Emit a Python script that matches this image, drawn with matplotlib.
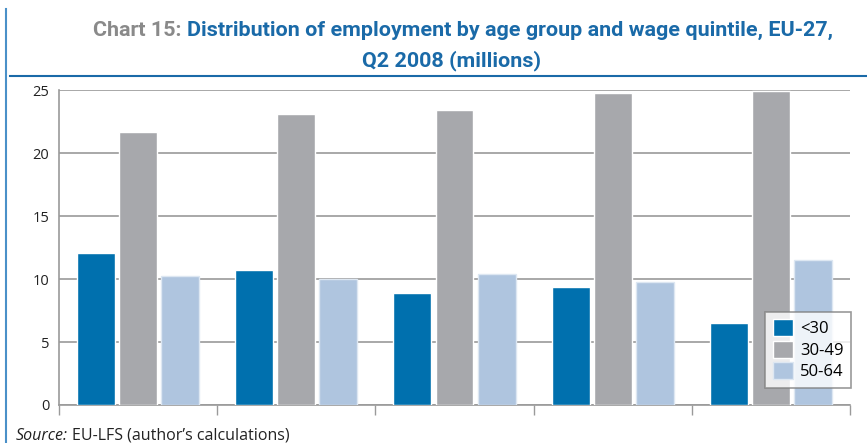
import matplotlib
matplotlib.use("Agg")
import matplotlib.pyplot as plt
import numpy as np
from matplotlib.lines import Line2D

categories = ["Q1", "Q2", "Q3", "Q4", "Q5"]
series_names = ["<30", "30-49", "50-64"]
under30 = [12.1, 10.7, 8.9, 9.4, 6.5]
age30_49 = [21.7, 23.1, 23.4, 24.8, 24.95]
age50_64 = [10.2, 10.0, 10.4, 9.8, 11.5]
yticks = [0, 5, 10, 15, 20, 25]

colors = ["#0070ae", "#a7a8ac", "#afc5df"]
edges = ["white", "white", "#dde7f2"]

W, H = 867, 443
fig = plt.figure(figsize=(W / 100, H / 100), dpi=100)
fig.patch.set_facecolor("white")

ax = fig.add_axes([59 / W, 1 - 405 / H, (850 - 59) / W, (405 - 90) / H])
x = np.arange(len(categories))
width = 0.24
step = 0.266
for i, (vals, c, ec) in enumerate(zip([under30, age30_49, age50_64], colors, edges)):
    ax.bar(x + (i - 1) * step, vals, width, color=c, edgecolor=ec, linewidth=1,
           label=series_names[i], zorder=3)

ax.set_xlim(-0.5, len(categories) - 0.5)
ax.set_ylim(0, 25)
ax.set_yticks(yticks)
ax.set_yticklabels([str(v) for v in yticks], fontsize=10.5, color="#222222", family="Open Sans")
ax.yaxis.grid(True, color="#9a9a9a", linewidth=1.2, zorder=0)
ax.tick_params(axis="y", length=0, pad=7)
ax.set_xticks(np.arange(-0.5, len(categories) + 0.5, 1))
ax.set_xticklabels([])
ax.tick_params(axis="x", length=7, direction="out", color="#9a9a9a", width=1)
for s in ["top", "right"]:
    ax.spines[s].set_visible(False)
ax.spines["left"].set_color("#9a9a9a")
ax.spines["bottom"].set_color("#9a9a9a")
ax.spines["left"].set_linewidth(1.2)
ax.spines["bottom"].set_linewidth(1.2)
ax.set_axisbelow(True)

leg = ax.legend(loc="lower right", bbox_to_anchor=(1.0015, 0.055), frameon=True, fancybox=False,
                prop={"family": "Open Sans", "size": 12}, handlelength=1.2, handleheight=1.2,
                handletextpad=0.45, borderpad=0.45, labelspacing=0.2, borderaxespad=0)
leg.get_frame().set_edgecolor("#808080")
leg.get_frame().set_linewidth(1.2)
leg.set_zorder(5)

# Frame lines (left border and line under title)
fig.add_artist(Line2D([6 / W, 6 / W], [0, 1 - 9 / H], color="#4a90c8", linewidth=1.5))
fig.add_artist(Line2D([10 / W, 1], [1 - 76 / H, 1 - 76 / H], color="#1a6aa8", linewidth=1.5))

# Title
fig.canvas.draw()
r = fig.canvas.get_renderer()
base = 15.0
tfont = dict(family="Roboto", weight="bold", size=base)
t1 = fig.text(0, 0, "Chart 15: ", color="#8a8a8a", **tfont)
t2 = fig.text(0, 0, "Distribution of employment by age group and wage quintile, EU-27,",
              color="#1a6aa8", **tfont)
total = t1.get_window_extent(r).width + t2.get_window_extent(r).width
size = base * 742.0 / total
t1.set_fontsize(size)
t2.set_fontsize(size)
w1 = t1.get_window_extent(r).width
y1 = 1 - 36 / H
t1.set_position((93 / W, y1))
t2.set_position(((93 + w1) / W, y1))
fig.text(452 / W, 1 - 66 / H, "Q2 2008 (millions)", color="#1a6aa8", ha="center",
         family="Roboto", weight="bold", size=size)

# Source
s1 = fig.text(16 / W, 1 - 440 / H, "Source:", style="italic", fontsize=11.5, family="Open Sans",
              color="#222222")
ws = s1.get_window_extent(r).width
fig.text((16 + ws + 4) / W, 1 - 440 / H, "EU-LFS (author\u2019s calculations)", fontsize=11.5,
         family="Open Sans", color="#222222")

fig.savefig("out.png", dpi=100)
